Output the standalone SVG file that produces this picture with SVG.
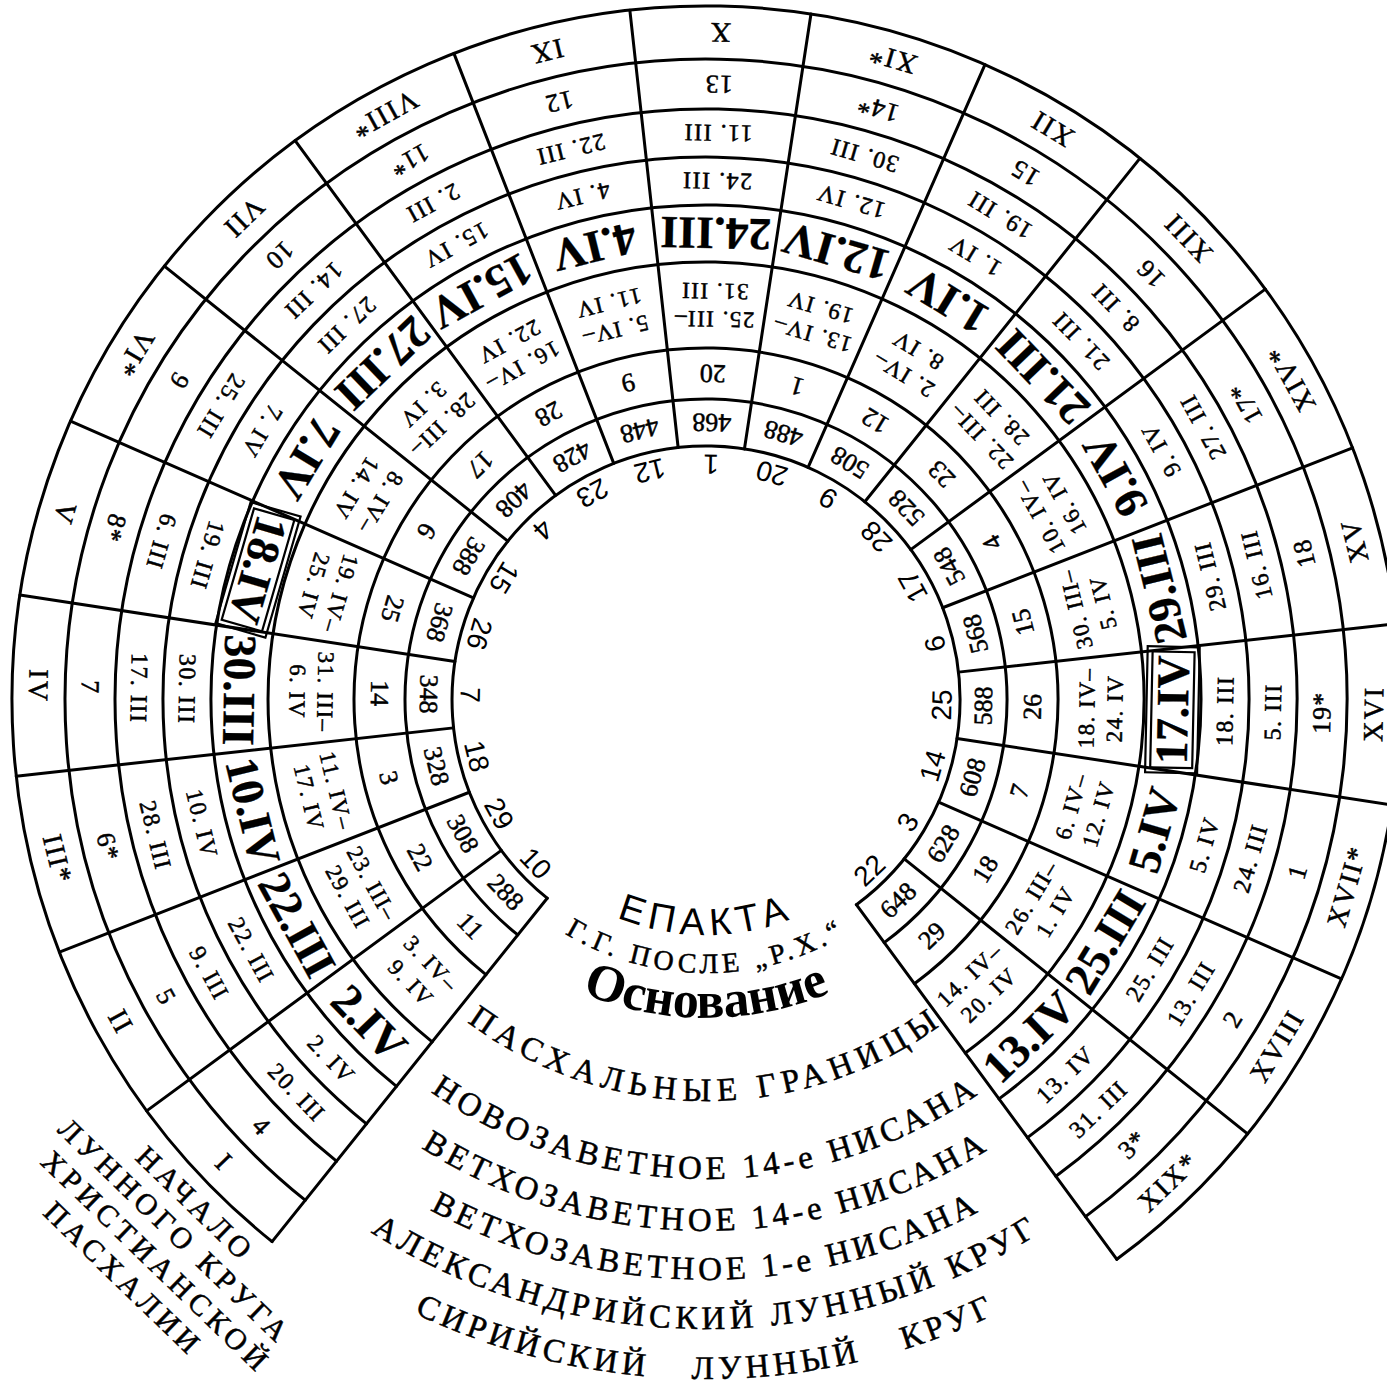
<svg xmlns="http://www.w3.org/2000/svg" width="1387" height="1391" viewBox="0 0 1387 1391">
<defs>
<style>
.ln{fill:none;stroke:#000;stroke-width:3;stroke-linecap:round}
.bx{fill:none;stroke:#000;stroke-width:2.2}
text{font-family:"Liberation Serif","Times New Roman",serif;fill:#000;text-anchor:middle;dominant-baseline:central;stroke:#000;stroke-width:0.5}
.r1{font-size:28px;letter-spacing:2px}
.r2{font-size:26px;letter-spacing:1px}
.d{font-size:24px;letter-spacing:1.5px}
.b{font-size:46px;font-weight:bold;stroke-width:0.3}
.p{font-size:23px;letter-spacing:1.5px}
.n{font-size:26px}
.e{font-family:"Liberation Sans",Arial,sans-serif;font-size:28px;stroke-width:0}
.lab{font-size:33px;dominant-baseline:auto}
.ep{font-family:"Liberation Sans",Arial,sans-serif;font-size:38px;letter-spacing:6px;dominant-baseline:auto;stroke-width:0}
.nc{font-size:30px;letter-spacing:5px}
</style>
<path id="pE" d="M471 700A235 235 0 0 0 941 700"/>
<path id="pG" d="M433 700A273 273 0 0 0 979 700"/>
<path id="pO" d="M388 700A318 318 0 0 0 1024 700"/>
<path id="pP" d="M305 700A401 401 0 0 0 1107 700"/>
<path id="pN" d="M227 700A479 479 0 0 0 1185 700"/>
<path id="pV14" d="M175 700A531 531 0 0 0 1237 700"/>
<path id="pV1" d="M126 700A580 580 0 0 0 1286 700"/>
<path id="pA" d="M77 700A629 629 0 0 0 1335 700"/>
<path id="pS" d="M27 700A679 679 0 0 0 1385 700"/>
</defs>
<rect width="1387" height="1391" fill="#fff"/>
<g id="connectors" class="ln" transform="translate(706 700)">
<path d="M-158.8 198.2A254 254 0 1 1 150.4 204.7"/>
<path d="M-188.2 234.9A301 301 0 1 1 178.2 242.6"/>
<path d="M-220.1 274.7A352 352 0 1 1 208.4 283.7"/>
<path d="M-273.8 341.8A438 438 0 1 1 259.3 353"/>
<path d="M-309.5 386.3A495 495 0 1 1 293 398.9"/>
<path d="M-339.5 423.8A543 543 0 1 1 321.5 437.6"/>
<path d="M-369.5 461.2A591 591 0 1 1 349.9 476.3"/>
<path d="M-400.8 500.2A641 641 0 1 1 379.5 516.6"/>
<path d="M-433.9 541.6A694 694 0 1 1 410.8 559.3"/>
<line y1="-254" y2="-694" transform="rotate(-141.3)"/>
<line y1="-254" y2="-694" transform="rotate(-126.3)"/>
<line y1="-254" y2="-694" transform="rotate(-111.3)"/>
<line y1="-254" y2="-694" transform="rotate(-96.3)"/>
<line y1="-254" y2="-694" transform="rotate(-81.3)"/>
<line y1="-254" y2="-694" transform="rotate(-66.3)"/>
<line y1="-254" y2="-694" transform="rotate(-51.3)"/>
<line y1="-254" y2="-694" transform="rotate(-36.3)"/>
<line y1="-254" y2="-694" transform="rotate(-21.3)"/>
<line y1="-254" y2="-694" transform="rotate(-6.3)"/>
<line y1="-254" y2="-694" transform="rotate(8.7)"/>
<line y1="-254" y2="-694" transform="rotate(23.7)"/>
<line y1="-254" y2="-694" transform="rotate(38.7)"/>
<line y1="-254" y2="-694" transform="rotate(53.7)"/>
<line y1="-254" y2="-694" transform="rotate(68.7)"/>
<line y1="-254" y2="-694" transform="rotate(83.7)"/>
<line y1="-254" y2="-694" transform="rotate(98.7)"/>
<line y1="-254" y2="-694" transform="rotate(113.7)"/>
<line y1="-254" y2="-694" transform="rotate(128.7)"/>
<line y1="-254" y2="-694" transform="rotate(143.7)"/>
</g>
<g id="s1" transform="translate(706 700) rotate(46.2)">
<text class="r1" y="667.5">I</text><text class="r2" y="616">4</text><text class="d" y="567">20. III</text><text class="d" y="519">2. IV</text><text class="b" y="466.5">2.IV</text><text class="p" y="381">3. IV–</text><text class="p" y="409">9. IV</text><text class="n" y="326.5">11</text><text class="n" y="277.5">288</text><text class="e" y="236">10</text>
</g>
<g id="s2" transform="translate(706 700) rotate(61.2)">
<text class="r1" y="667.5">II</text><text class="r2" y="616">5</text><text class="d" y="567">9. III</text><text class="d" y="519">22. III</text><text class="b" y="466.5">22.III</text><text class="p" y="381">23. III–</text><text class="p" y="409">29. III</text><text class="n" y="326.5">22</text><text class="n" y="277.5">308</text><text class="e" y="236">29</text>
</g>
<g id="s3" transform="translate(706 700) rotate(76.2)">
<text class="r1" y="667.5">III*</text><text class="r2" y="616">6*</text><text class="d" y="567">28. III</text><text class="d" y="519">10. IV</text><text class="b" y="466.5">10.IV</text><text class="p" y="381">11. IV–</text><text class="p" y="409">17. IV</text><text class="n" y="326.5">3</text><text class="n" y="277.5">328</text><text class="e" y="236">18</text>
</g>
<g id="s4" transform="translate(706 700) rotate(91.2)">
<text class="r1" y="667.5">IV</text><text class="r2" y="616">7</text><text class="d" y="567">17. III</text><text class="d" y="519">30. III</text><text class="b" y="466.5">30.III</text><text class="p" y="381">31. III–</text><text class="p" y="409">6. IV</text><text class="n" y="326.5">14</text><text class="n" y="277.5">348</text><text class="e" y="236">7</text>
</g>
<g id="s5" transform="translate(706 700) rotate(106.2)">
<text class="r1" y="667.5">V</text><text class="r2" y="616">8*</text><text class="d" y="567">6. III</text><text class="d" y="519">19. III</text><rect class="bx" x="-63" y="440.5" width="126" height="52"/><rect class="bx" x="-58" y="445.5" width="116" height="42"/><text class="b" y="466.5">18.IV</text><text class="p" y="381">19. IV–</text><text class="p" y="409">25. IV</text><text class="n" y="326.5">25</text><text class="n" y="277.5">368</text><text class="e" y="236">26</text>
</g>
<g id="s6" transform="translate(706 700) rotate(121.2)">
<text class="r1" y="667.5">VI*</text><text class="r2" y="616">9</text><text class="d" y="567">25. III</text><text class="d" y="519">7. IV</text><text class="b" y="466.5">7.IV</text><text class="p" y="381">8. IV–</text><text class="p" y="409">14. IV</text><text class="n" y="326.5">6</text><text class="n" y="277.5">388</text><text class="e" y="236">15</text>
</g>
<g id="s7" transform="translate(706 700) rotate(136.2)">
<text class="r1" y="667.5">VII</text><text class="r2" y="616">10</text><text class="d" y="567">14. III</text><text class="d" y="519">27. III</text><text class="b" y="466.5">27.III</text><text class="p" y="381">28. III–</text><text class="p" y="409">3. IV</text><text class="n" y="326.5">17</text><text class="n" y="277.5">408</text><text class="e" y="236">4</text>
</g>
<g id="s8" transform="translate(706 700) rotate(151.2)">
<text class="r1" y="667.5">VIII*</text><text class="r2" y="616">11*</text><text class="d" y="567">2. III</text><text class="d" y="519">15. IV</text><text class="b" y="466.5">15.IV</text><text class="p" y="381">16. IV–</text><text class="p" y="409">22. IV</text><text class="n" y="326.5">28</text><text class="n" y="277.5">428</text><text class="e" y="236">23</text>
</g>
<g id="s9" transform="translate(706 700) rotate(166.2)">
<text class="r1" y="667.5">IX</text><text class="r2" y="616">12</text><text class="d" y="567">22. III</text><text class="d" y="519">4. IV</text><text class="b" y="466.5">4.IV</text><text class="p" y="381">5. IV–</text><text class="p" y="409">11. IV</text><text class="n" y="326.5">9</text><text class="n" y="277.5">448</text><text class="e" y="236">12</text>
</g>
<g id="s10" transform="translate(706 700) rotate(181.2)">
<text class="r1" y="667.5">X</text><text class="r2" y="616">13</text><text class="d" y="567">11. III</text><text class="d" y="519">24. III</text><text class="b" y="466.5">24.III</text><text class="p" y="381">25. III–</text><text class="p" y="409">31. III</text><text class="n" y="326.5">20</text><text class="n" y="277.5">468</text><text class="e" y="236">1</text>
</g>
<g id="s11" transform="translate(706 700) rotate(196.2)">
<text class="r1" y="667.5">XI*</text><text class="r2" y="616">14*</text><text class="d" y="567">30. III</text><text class="d" y="519">12. IV</text><text class="b" y="466.5">12.IV</text><text class="p" y="381">13. IV–</text><text class="p" y="409">19. IV</text><text class="n" y="326.5">1</text><text class="n" y="277.5">488</text><text class="e" y="236">20</text>
</g>
<g id="s12" transform="translate(706 700) rotate(211.2)">
<text class="r1" y="667.5">XII</text><text class="r2" y="616">15</text><text class="d" y="567">19. III</text><text class="d" y="519">1. IV</text><text class="b" y="466.5">1.IV</text><text class="p" y="381">2. IV–</text><text class="p" y="409">8. IV</text><text class="n" y="326.5">12</text><text class="n" y="277.5">508</text><text class="e" y="236">9</text>
</g>
<g id="s13" transform="translate(706 700) rotate(226.2)">
<text class="r1" y="667.5">XIII</text><text class="r2" y="616">16</text><text class="d" y="567">8. III</text><text class="d" y="519">21. III</text><text class="b" y="466.5">21.III</text><text class="p" y="381">22. III–</text><text class="p" y="409">28. III</text><text class="n" y="326.5">23</text><text class="n" y="277.5">528</text><text class="e" y="236">28</text>
</g>
<g id="s14" transform="translate(706 700) rotate(241.2)">
<text class="r1" y="667.5">XIV*</text><text class="r2" y="616">17*</text><text class="d" y="567">27. III</text><text class="d" y="519">9. IV</text><text class="b" y="466.5">9.IV</text><text class="p" y="381">10. IV–</text><text class="p" y="409">16. IV</text><text class="n" y="326.5">4</text><text class="n" y="277.5">548</text><text class="e" y="236">17</text>
</g>
<g id="s15" transform="translate(706 700) rotate(256.2)">
<text class="r1" y="667.5">XV</text><text class="r2" y="616">18</text><text class="d" y="567">16. III</text><text class="d" y="519">29. III</text><text class="b" y="466.5">29.III</text><text class="p" y="381">30. III–</text><text class="p" y="409">5. IV</text><text class="n" y="326.5">15</text><text class="n" y="277.5">568</text><text class="e" y="236">6</text>
</g>
<g id="s16" transform="translate(706 700) rotate(271.2)">
<text class="r1" y="667.5">XVI</text><text class="r2" y="616">19*</text><text class="d" y="567">5. III</text><text class="d" y="519">18. III</text><rect class="bx" x="-63" y="440.5" width="126" height="52"/><rect class="bx" x="-58" y="445.5" width="116" height="42"/><text class="b" y="466.5">17.IV</text><text class="p" y="381">18. IV–</text><text class="p" y="409">24. IV</text><text class="n" y="326.5">26</text><text class="n" y="277.5">588</text><text class="e" y="236">25</text>
</g>
<g id="s17" transform="translate(706 700) rotate(286.2)">
<text class="r1" y="667.5">XVII*</text><text class="r2" y="616">1</text><text class="d" y="567">24. III</text><text class="d" y="519">5. IV</text><text class="b" y="466.5">5.IV</text><text class="p" y="381">6. IV–</text><text class="p" y="409">12. IV</text><text class="n" y="326.5">7</text><text class="n" y="277.5">608</text><text class="e" y="236">14</text>
</g>
<g id="s18" transform="translate(706 700) rotate(301.2)">
<text class="r1" y="667.5">XVIII</text><text class="r2" y="616">2</text><text class="d" y="567">13. III</text><text class="d" y="519">25. III</text><text class="b" y="466.5">25.III</text><text class="p" y="381">26. III–</text><text class="p" y="409">1. IV</text><text class="n" y="326.5">18</text><text class="n" y="277.5">628</text><text class="e" y="236">3</text>
</g>
<g id="s19" transform="translate(706 700) rotate(316.2)">
<text class="r1" y="667.5">XIX*</text><text class="r2" y="616">3*</text><text class="d" y="567">31. III</text><text class="d" y="519">13. IV</text><text class="b" y="466.5">13.IV</text><text class="p" y="381">14. IV–</text><text class="p" y="409">20. IV</text><text class="n" y="326.5">29</text><text class="n" y="277.5">648</text><text class="e" y="236">22</text>
</g>
<g id="labels">
<text class="ep"><textPath href="#pE" startOffset="50%">ЕПАКТА</textPath></text>
<text class="lab" style="font-size:28px;letter-spacing:4.5px"><textPath href="#pG" startOffset="50%">Г.Г. ПОСЛЕ „Р.Х.“</textPath></text>
<text class="lab" style="font-size:52px;font-weight:bold;stroke-width:0"><textPath href="#pO" startOffset="50%">Основание</textPath></text>
<text class="lab" style="letter-spacing:6.5px"><textPath href="#pP" startOffset="50%">ПАСХАЛЬНЫЕ ГРАНИЦЫ</textPath></text>
<text class="lab" style="letter-spacing:4.5px"><textPath href="#pN" startOffset="50%">НОВОЗАВЕТНОЕ 14-е НИСАНА</textPath></text>
<text class="lab" style="letter-spacing:4.3px"><textPath href="#pV14" startOffset="50%">ВЕТХОЗАВЕТНОЕ 14-е НИСАНА</textPath></text>
<text class="lab" style="letter-spacing:4.1px"><textPath href="#pV1" startOffset="50%">ВЕТХОЗАВЕТНОЕ 1-е НИСАНА</textPath></text>
<text class="lab" style="letter-spacing:4.7px"><textPath href="#pA" startOffset="50%">АЛЕКСАНДРИЙСКИЙ ЛУННЫЙ КРУГ</textPath></text>
<text class="lab" style="letter-spacing:4.5px;word-spacing:30px"><textPath href="#pS" startOffset="50%">СИРИЙСКИЙ ЛУННЫЙ КРУГ</textPath></text>
</g>
<g id="note" transform="translate(196 1204) rotate(44)">
<text class="nc" y="0">НАЧАЛО</text>
<text class="nc" x="4" y="34">ЛУННОГО КРУГА</text>
<text class="nc" x="12" y="69">ХРИСТИАНСКОЙ</text>
<text class="nc" y="104">ПАСХАЛИИ</text>
</g>
</svg>
